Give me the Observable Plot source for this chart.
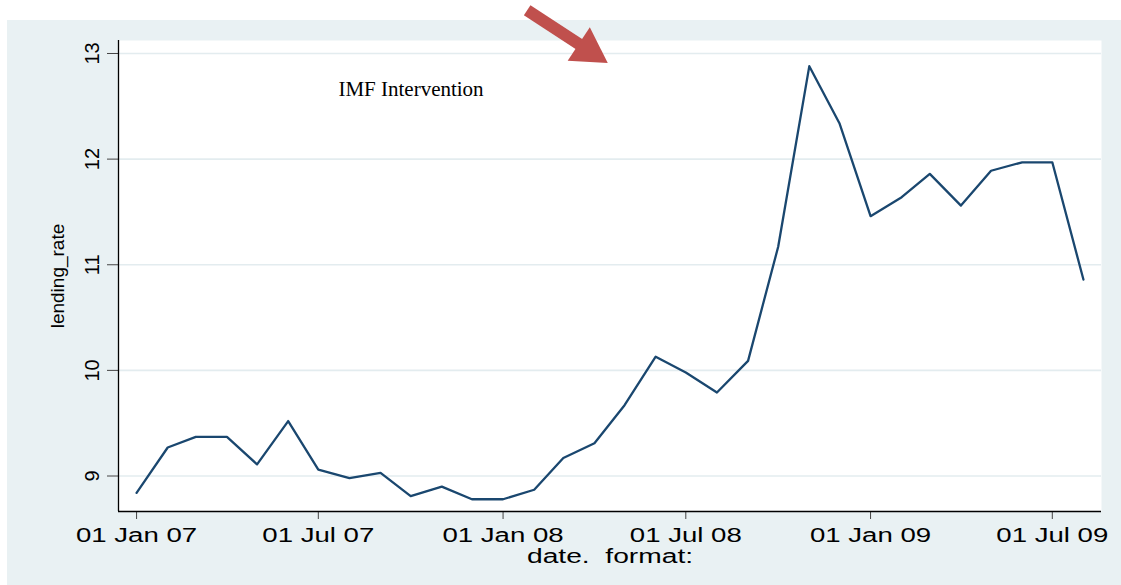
<!DOCTYPE html>
<html><head><meta charset="utf-8">
<script src="https://cdn.jsdelivr.net/npm/d3@7"></script>
<script src="https://cdn.jsdelivr.net/npm/@observablehq/plot@0.6"></script>
<style>
body{margin:0;background:#fff;}
#wrap{position:relative;width:1121px;height:585px;overflow:hidden;}
#panel{position:absolute;left:7px;top:20px;width:1114px;height:565px;background:#e9f1f3;}
#chart{position:absolute;left:0;top:0;}
svg text{white-space:pre;}
</style></head><body>
<div id="wrap"><div id="panel"></div><div id="chart"></div></div>
<script>
// ---- data ----
const months = ["2007-01","2007-02","2007-03","2007-04","2007-05","2007-06","2007-07","2007-08","2007-09","2007-10","2007-11","2007-12",
                "2008-01","2008-02","2008-03","2008-04","2008-05","2008-06","2008-07","2008-08","2008-09","2008-10","2008-11","2008-12",
                "2009-01","2009-02","2009-03","2009-04","2009-05","2009-06","2009-07","2009-08"];
const lendingRate = [8.84, 9.27, 9.37, 9.37, 9.11, 9.52, 9.06, 8.98, 9.03, 8.81, 8.90, 8.78,
                     8.78, 8.87, 9.17, 9.31, 9.67, 10.13, 9.98, 9.79, 10.09, 11.17, 12.88, 12.34,
                     11.46, 11.64, 11.86, 11.56, 11.89, 11.97, 11.97, 10.86];
const xTickDates = ["2007-01-01","2007-07-01","2008-01-01","2008-07-01","2009-01-01","2009-07-01"];
const yTickValues = [9, 10, 11, 12, 13];
const xDomain = ["2006-12-14","2009-08-19"];
const yDomain = [8.664, 13.123];
const yLabel = "lending_rate";
const xLabel = "date.  format:";
const noteText = ["IMF Intervention"];
const noteDate = ["2007-07-21"];
const noteRate = [12.6];
const arrowTail = {date: "2008-01-25", rate: 13.41};
const arrowHead = {date: "2008-03-26", rate: 13.03};

const data = months.map((m, i) => ({date: new Date(m + "-01"), rate: lendingRate[i]}));
const notes = noteText.map((t, i) => ({text: t, date: new Date(noteDate[i]), rate: noteRate[i]}));
const arrowLink = [{x1: new Date(arrowTail.date), y1: arrowTail.rate, x2: new Date(arrowHead.date), y2: arrowHead.rate}];
const arrowTip = [{date: new Date(arrowHead.date), rate: arrowHead.rate}];

const font = "'Liberation Sans', Arial, Helvetica, sans-serif";
const plot = Plot.plot({
  width: 1121, height: 585,
  marginLeft: 118, marginRight: 20, marginTop: 40, marginBottom: 74,
  style: {background: "transparent", fontFamily: font, fontSize: "20px", overflow: "visible", color: "#000"},
  x: {type: "utc", domain: xDomain.map(d => new Date(d))},
  y: {domain: yDomain},
  marks: [
    Plot.frame({fill: "white", stroke: null}),
    Plot.gridY(yTickValues, {stroke: "#e3ecef", strokeOpacity: 1, strokeWidth: 1.6}),
    Plot.line(data, {x: "date", y: "rate", stroke: "#1a476f", strokeWidth: 2.3}),
    Plot.axisY(yTickValues, {tickSize: 11, tickPadding: 9, tickRotate: -90, tickFormat: d => String(d), stroke: "#444", fill: "#000", label: null, fontSize: 20}),
    Plot.axisX(xTickDates.map(d => new Date(d)), {tickSize: 8, tickPadding: 8.5, tickFormat: d3.utcFormat("%d %b %y"), stroke: "#444", fill: "#000", label: null, fontSize: 20, className: "xticks"}),
    Plot.ruleX([new Date(xDomain[0])], {stroke: "#000", strokeWidth: 1.3}),
    Plot.ruleY([yDomain[0]], {stroke: "#000", strokeWidth: 1.3}),
    Plot.text([yLabel], {frameAnchor: "left", dx: -55, rotate: -90, textAnchor: "middle", lineAnchor: "bottom", fontSize: 19, fill: "#000"}),
    Plot.text([xLabel], {frameAnchor: "bottom", dy: 51, textAnchor: "middle", lineAnchor: "bottom", fontSize: 20, fill: "#000", className: "xlab"}),
    Plot.text(notes, {x: "date", y: "rate", text: "text", textAnchor: "start", lineAnchor: "bottom", fontFamily: "'Liberation Serif', 'Times New Roman', serif", fontSize: 21, fill: "#000"}),
    Plot.link(arrowLink, {x1: "x1", y1: "y1", x2: "x2", y2: "y2", stroke: "#c0504d", strokeWidth: 12, strokeLinecap: "butt"}),
    Plot.dot(arrowTip, {x: "date", y: "rate", symbol: "triangle", r: 14.9, rotate: 123.5, fill: "#c0504d", stroke: null})
  ]
});
document.getElementById("chart").appendChild(plot);

// horizontal stretch of the horizontal labels (as in the reference), about each label's own centre
function stretch(el, k) {
  const g = document.createElementNS("http://www.w3.org/2000/svg", "g");
  el.parentNode.insertBefore(g, el);
  g.appendChild(el);
  const b = g.getBBox();
  const cx = b.x + b.width / 2;
  g.setAttribute("transform", `translate(${cx},0) scale(${k},1) translate(${-cx},0)`);
}
const xt = plot.querySelectorAll(".xticks text, g[aria-label='x-axis tick label'] text");
new Set(xt).forEach(el => stretch(el, 1.38));
new Set(plot.querySelectorAll(".xlab text")).forEach(el => stretch(el, 1.41));
</script>
</body></html>
